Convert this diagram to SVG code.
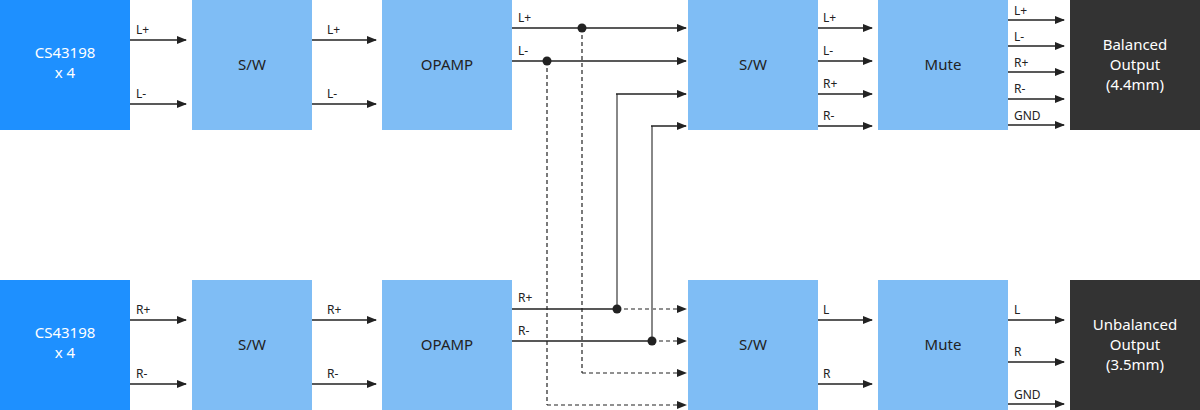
<svg xmlns="http://www.w3.org/2000/svg" width="1200" height="410" viewBox="0 0 1200 410">
<defs>
<marker id="a" markerWidth="10" markerHeight="8" refX="9" refY="4" orient="auto" markerUnits="userSpaceOnUse"><path d="M0,0 L10,4 L0,8 Z" fill="#222"/></marker>
<style>
.src{fill:#1e90ff}.blk{fill:#7fbdf5}.out{fill:#333}
.t{font-family:"Noto Sans",sans-serif;font-size:15px;text-anchor:middle;fill:#222}
.tw{font-family:"Noto Sans",sans-serif;font-size:15px;text-anchor:middle;fill:#fff}
.l{font-family:"Noto Sans",sans-serif;font-size:12px;fill:#222}
.w{stroke:#222;stroke-width:1.3;fill:none;marker-end:url(#a)}
.d{stroke:#222;stroke-width:1.2;fill:none;stroke-dasharray:4,3}
.dm{stroke:#222;stroke-width:1.2;fill:none;stroke-dasharray:4,3;marker-end:url(#a)}
.g{stroke:#888;stroke-width:2;fill:none}
.gm{stroke:#222;stroke-width:1.3;fill:none;marker-end:url(#a)}
</style>
</defs>
<g id="cs1"><rect class="src" x="0" y="0" width="130" height="130"/><text class="tw" x="65" y="58">CS43198</text><text class="tw" x="65" y="78">x 4</text></g>
<g id="sw1"><rect class="blk" x="192" y="0" width="120" height="130"/><text class="t" x="252" y="70">S/W</text></g>
<g id="op1"><rect class="blk" x="382" y="0" width="130" height="130"/><text class="t" x="447" y="70">OPAMP</text></g>
<g id="sw2"><rect class="blk" x="688" y="0" width="130" height="130"/><text class="t" x="753" y="70">S/W</text></g>
<g id="mute1"><rect class="blk" x="878" y="0" width="130" height="130"/><text class="t" x="943" y="70">Mute</text></g>
<g id="bal"><rect class="out" x="1070" y="0" width="130" height="130"/><text class="tw" x="1135" y="50">Balanced</text><text class="tw" x="1135" y="70">Output</text><text class="tw" x="1135" y="90">(4.4mm)</text></g>
<g id="cs2"><rect class="src" x="0" y="280" width="130" height="130"/><text class="tw" x="65" y="338">CS43198</text><text class="tw" x="65" y="358">x 4</text></g>
<g id="sw3"><rect class="blk" x="192" y="280" width="120" height="130"/><text class="t" x="252" y="350">S/W</text></g>
<g id="op2"><rect class="blk" x="382" y="280" width="130" height="130"/><text class="t" x="447" y="350">OPAMP</text></g>
<g id="sw4"><rect class="blk" x="688" y="280" width="130" height="130"/><text class="t" x="753" y="350">S/W</text></g>
<g id="mute2"><rect class="blk" x="878" y="280" width="130" height="130"/><text class="t" x="943" y="350">Mute</text></g>
<g id="unbal"><rect class="out" x="1070" y="280" width="130" height="130"/><text class="tw" x="1135" y="330">Unbalanced</text><text class="tw" x="1135" y="350">Output</text><text class="tw" x="1135" y="370">(3.5mm)</text></g>
<g id="connectors">
<path class="w" d="M130,40H186"/><path class="w" d="M130,104H186"/>
<path class="w" d="M312,40H376"/><path class="w" d="M312,104H376"/>
<path class="w" d="M512,28H686"/><path class="w" d="M512,61H686"/>
<path class="w" d="M818,28H872"/><path class="w" d="M818,61H872"/><path class="w" d="M818,94H872"/><path class="w" d="M818,126H872"/>
<path class="w" d="M1008,20H1064"/><path class="w" d="M1008,46H1064"/><path class="w" d="M1008,72H1064"/><path class="w" d="M1008,99H1064"/><path class="w" d="M1008,125H1064"/>
<path class="w" d="M130,320H186"/><path class="w" d="M130,384H186"/>
<path class="w" d="M312,320H376"/><path class="w" d="M312,384H376"/>
<path stroke="#222" stroke-width="1.3" d="M512,309H617M512,341H652"/>
<path class="dm" d="M617,309H686"/><path class="dm" d="M652,341H686"/>
<path class="d" d="M582,28V373"/><path class="dm" d="M582,373H686"/>
<path class="d" d="M547,61V405"/><path class="dm" d="M547,405H686"/>
<path class="g" d="M617,309V94"/><path class="gm" d="M616,94H686"/>
<path class="g" d="M652,341V126"/><path class="gm" d="M651,126H686"/>
<circle cx="582" cy="28" r="4.5" fill="#222"/><circle cx="547" cy="61" r="4.5" fill="#222"/>
<circle cx="617" cy="309" r="4.5" fill="#222"/><circle cx="652" cy="341" r="4.5" fill="#222"/>
<path class="w" d="M818,320H872"/><path class="w" d="M818,384H872"/>
<path class="w" d="M1008,320H1064"/><path class="w" d="M1008,362H1064"/><path class="w" d="M1008,404H1064"/>
</g>
<g id="labels">
<text class="l" x="136" y="34">L+</text><text class="l" x="136" y="98">L-</text>
<text class="l" x="327" y="34">L+</text><text class="l" x="327" y="98">L-</text>
<text class="l" x="518" y="22">L+</text><text class="l" x="518" y="55">L-</text>
<text class="l" x="823" y="22">L+</text><text class="l" x="823" y="55">L-</text><text class="l" x="823" y="88">R+</text><text class="l" x="823" y="120">R-</text>
<text class="l" x="1014" y="15">L+</text><text class="l" x="1014" y="41">L-</text><text class="l" x="1014" y="67">R+</text><text class="l" x="1014" y="93">R-</text><text class="l" x="1014" y="120">GND</text>
<text class="l" x="136" y="314">R+</text><text class="l" x="136" y="378">R-</text>
<text class="l" x="327" y="314">R+</text><text class="l" x="327" y="378">R-</text>
<text class="l" x="518" y="302">R+</text><text class="l" x="518" y="335">R-</text>
<text class="l" x="823" y="314">L</text><text class="l" x="823" y="378">R</text>
<text class="l" x="1014" y="314">L</text><text class="l" x="1014" y="356">R</text><text class="l" x="1014" y="399">GND</text>
</g>
</svg>
